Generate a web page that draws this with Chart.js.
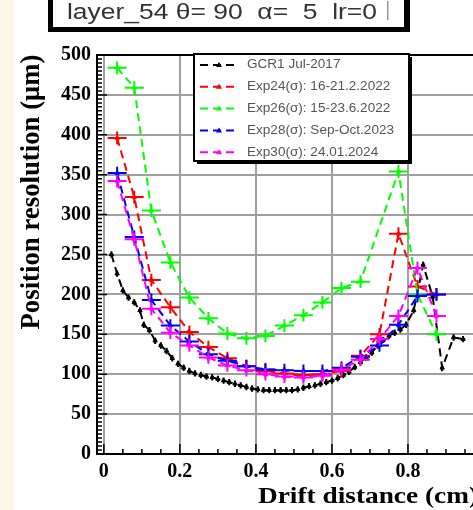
<!DOCTYPE html>
<html lang="en">
<head>
  <meta charset="UTF-8">
  <title>Position resolution vs drift distance</title>
  <script src="https://cdn.jsdelivr.net/npm/chart.js"></script>
  <style>
    html, body {
      margin: 0;
      padding: 0;
      overflow: hidden;
      background: #fff;
    }
    #wrap {
      position: absolute;
      left: 0;
      top: 0;
    }
  </style>
</head>
<body>
  <div id="wrap"><canvas id="resChart" width="500" height="510"></canvas></div>

  <script>
    // GCR1 reference run, fine binning
    const gcrX = [0.02, 0.035, 0.05, 0.065, 0.08, 0.095, 0.105,
      0.12, 0.135, 0.15, 0.165, 0.18, 0.195, 0.21, 0.225, 0.24, 0.255,
      0.27, 0.285, 0.30, 0.315, 0.33, 0.345, 0.36, 0.375, 0.39, 0.405,
      0.42, 0.435, 0.45, 0.465, 0.48, 0.495, 0.51, 0.525, 0.54, 0.555,
      0.57, 0.585, 0.60, 0.615, 0.63, 0.645, 0.66, 0.675, 0.69, 0.705,
      0.72, 0.735, 0.75, 0.765, 0.78, 0.795,
      0.815, 0.84, 0.865, 0.89, 0.92, 0.945];
    const gcrRes = [250, 226, 205, 196, 190, 180, 162,
      155, 142, 136, 129, 120, 113, 108, 104, 101, 99,
      97, 96, 94, 92, 90, 88, 86, 84, 82, 81,
      80, 80, 80, 80, 80, 80, 81, 83, 85, 86,
      88, 90, 92, 95, 99, 103, 109, 115, 121, 127,
      136, 143, 148, 152, 156, 162,
      180, 237, 197, 108, 146, 144];

    // test beam runs, 0.05 cm bins
    const binX = [0.035, 0.08, 0.125, 0.175, 0.225, 0.275, 0.325, 0.375, 0.425,
      0.475, 0.525, 0.575, 0.625, 0.675, 0.725, 0.775, 0.825, 0.875];
    const exp24Res = [396, 322, 218, 184, 153, 134, 120, 110, 104,
      101, 99, 100, 104, 123, 150, 276, 210, 200];
    const exp26Res = [484, 459, 305, 240, 196, 170, 151, 145, 148,
      161, 174, 190, 208, 216, null, 354, 200, 150];
    const exp28Res = [352, 272, 193, 161, 141, 125, 117, 110, 106,
      105, 104, 104, 108, 122, 136, 162, 198, 200];
    const exp30Res = [342, 269, 182, 152, 136, 121, 111, 105, 100,
      97, 96, 98, 106, 118, 144, 173, 233, 173];

    const seriesLabels = ["GCR1 Jul-2017", "Exp24(σ): 16-21.2.2022", "Exp26(σ): 15-23.6.2022",
      "Exp28(σ): Sep-Oct.2023", "Exp30(σ): 24.01.2024"];
    const seriesColors = ["#000000", "#ff0000", "#00ff00", "#0000ff", "#ff00ff"];

    const xTickStep = 0.2;
    const yTickStep = 50;
    const titleText = "layer_54 θ= 90  α=  5  lr=0";

    function toPoints(xs, ys) {
      return xs.map((x, i) => ({ x: x, y: ys[i] }));
    }

    function makeSet(i, xs, ys, halfW, errY) {
      return {
        label: seriesLabels[i],
        data: toPoints(xs, ys),
        showLine: true,
        spanGaps: true,
        borderColor: seriesColors[i],
        backgroundColor: seriesColors[i],
        borderWidth: 2,
        borderDash: [8, 5],
        pointStyle: "triangle",
        pointRadius: 2.5,
        pointBorderWidth: 1,
        order: 4 - i,
        errX: halfW,
        errY: errY
      };
    }

    // draw text squeezed/stretched horizontally to a given width
    function fitText(ctx, text, x, y, width, align, sy) {
      const w = ctx.measureText(text).width;
      ctx.save();
      ctx.translate(x, y);
      ctx.scale(width / w, sy || 1);
      ctx.textAlign = align;
      ctx.fillText(text, 0, 0);
      ctx.restore();
    }

    const background = {
      id: "background",
      beforeDraw(chart) {
        const ctx = chart.ctx;
        ctx.save();
        ctx.fillStyle = "#ffffff";
        ctx.fillRect(0, 0, chart.width, chart.height);
        ctx.fillStyle = "#fdf7ea";
        ctx.fillRect(0, 0, 14, chart.height);
        ctx.restore();
      }
    };

    // x/y error bars for each graph
    const errorBars = {
      id: "errorBars",
      afterDatasetDraw(chart, args) {
        const ds = chart.data.datasets[args.index];
        const { x, y } = chart.scales;
        const ctx = chart.ctx;
        ctx.save();
        ctx.beginPath();
        ctx.rect(chart.chartArea.left, chart.chartArea.top, chart.chartArea.width, chart.chartArea.height);
        ctx.clip();
        ctx.strokeStyle = ds.borderColor;
        ctx.lineWidth = 2;
        ctx.beginPath();
        ds.data.forEach(p => {
          if (p.y === null) return;
          const px = x.getPixelForValue(p.x);
          const py = y.getPixelForValue(p.y);
          ctx.moveTo(x.getPixelForValue(p.x - ds.errX), py);
          ctx.lineTo(x.getPixelForValue(p.x + ds.errX), py);
          ctx.moveTo(px, y.getPixelForValue(p.y - ds.errY));
          ctx.lineTo(px, y.getPixelForValue(p.y + ds.errY));
        });
        ctx.stroke();
        ctx.restore();
      }
    };

    // inner tick marks, top frame, axis titles, legend and title box
    const rootDecor = {
      id: "rootDecor",
      afterDraw(chart) {
        const ctx = chart.ctx;
        const a = chart.chartArea;
        const { x, y } = chart.scales;
        ctx.save();

        ctx.strokeStyle = "#000";
        ctx.lineWidth = 1.5;
        ctx.beginPath();
        for (let v = 0; v <= 500; v += 5) {
          const py = y.getPixelForValue(v);
          const len = v % 50 === 0 ? 10 : 5;
          ctx.moveTo(a.left, py);
          ctx.lineTo(a.left + len, py);
        }
        for (let k = 0; k <= 20; k++) {
          const px = x.getPixelForValue(k * 0.05);
          const len = k % 4 === 0 ? 10 : 5;
          ctx.moveTo(px, a.bottom);
          ctx.lineTo(px, a.bottom - len);
        }
        ctx.stroke();
        ctx.lineWidth = 2;
        ctx.beginPath();
        ctx.moveTo(a.left, a.top);
        ctx.lineTo(a.right, a.top);
        ctx.stroke();

        // axis titles
        ctx.fillStyle = "#000";
        ctx.font = "bold 23px 'Liberation Serif', serif";
        ctx.textBaseline = "alphabetic";
        fitText(ctx, "Drift distance (cm)", 478, 503, 220, "right");
        ctx.save();
        ctx.translate(39, 192);
        ctx.rotate(-Math.PI / 2);
        ctx.textBaseline = "alphabetic";
        fitText(ctx, "Position resolution (μm)", 0, 0, 275, "center", 1.2);
        ctx.restore();

        // legend
        const lx0 = 194, ly0 = 54, lx1 = 409, ly1 = 161;
        ctx.fillStyle = "#000";
        ctx.fillRect(lx0 + 3, ly0 + 3, lx1 - lx0, ly1 - ly0);
        ctx.fillStyle = "#fff";
        ctx.fillRect(lx0, ly0, lx1 - lx0, ly1 - ly0);
        ctx.lineWidth = 2;
        ctx.strokeStyle = "#000";
        ctx.strokeRect(lx0, ly0, lx1 - lx0, ly1 - ly0);
        ctx.font = "12px 'Liberation Sans', sans-serif";
        ctx.textBaseline = "middle";
        const sx = 147 / ctx.measureText(seriesLabels[3]).width;
        seriesLabels.forEach((lab, i) => {
          const ry = 65 + i * 21.8;
          ctx.strokeStyle = seriesColors[i];
          ctx.fillStyle = seriesColors[i];
          ctx.lineWidth = 2;
          ctx.setLineDash([8, 5]);
          ctx.beginPath();
          ctx.moveTo(200, ry);
          ctx.lineTo(238, ry);
          ctx.stroke();
          ctx.setLineDash([]);
          ctx.beginPath();
          ctx.moveTo(219, ry - 3);
          ctx.lineTo(222, ry + 2);
          ctx.lineTo(216, ry + 2);
          ctx.closePath();
          ctx.fill();
          ctx.fillStyle = "#555";
          ctx.save();
          ctx.translate(247, ry);
          ctx.scale(sx, 1);
          ctx.textAlign = "left";
          ctx.fillText(lab, 0, 0);
          ctx.restore();
        });

        // title box
        ctx.fillStyle = "#000";
        ctx.fillRect(48, -10, 362, 42);
        ctx.fillStyle = "#fff";
        ctx.fillRect(53, -10, 351, 37);
        ctx.fillStyle = "#333";
        ctx.font = "22px 'Liberation Sans', sans-serif";
        ctx.textBaseline = "alphabetic";
        fitText(ctx, titleText, 67, 19, 310, "left");
        ctx.fillStyle = "#999";
        ctx.fillRect(387, 1, 1.5, 19);

        ctx.restore();
      }
    };

    new Chart(document.getElementById("resChart"), {
      type: "scatter",
      data: {
        datasets: [
          makeSet(0, gcrX, gcrRes, 0.005, 4),
          makeSet(1, binX, exp24Res, 0.025, 8),
          makeSet(2, binX, exp26Res, 0.025, 8),
          makeSet(3, binX, exp28Res, 0.025, 8),
          makeSet(4, binX, exp30Res, 0.025, 8)
        ]
      },
      options: {
        responsive: false,
        animation: false,
        layout: { padding: { top: 55, right: 16, bottom: 0, left: 0 } },
        plugins: {
          legend: { display: false },
          tooltip: { enabled: false }
        },
        scales: {
          x: {
            type: "linear",
            min: -0.018,
            max: 1.0,
            afterFit: s => { s.height = 56; },
            grid: { color: "#a0a0a0", lineWidth: 2, drawTicks: false },
            border: { color: "#000", width: 2 },
            ticks: {
              stepSize: xTickStep,
              includeBounds: false,
              autoSkip: false,
              maxRotation: 0,
              padding: 6,
              color: "#000",
              font: { family: "'Liberation Serif', serif", weight: "bold", size: 20 },
              callback: v => Math.abs(v) < 1e-9 ? "0" : (Math.abs(v - 1) < 1e-9 ? "1" : v.toFixed(1))
            }
          },
          y: {
            min: 0,
            max: 500,
            afterFit: s => { s.width = 97; },
            grid: { color: "#a0a0a0", lineWidth: 2, drawTicks: false },
            border: { color: "#000", width: 2 },
            ticks: {
              stepSize: yTickStep,
              autoSkip: false,
              padding: 6,
              color: "#000",
              font: { family: "'Liberation Serif', serif", weight: "bold", size: 20 }
            }
          }
        }
      },
      plugins: [background, errorBars, rootDecor]
    });
  </script>
</body>
</html>
